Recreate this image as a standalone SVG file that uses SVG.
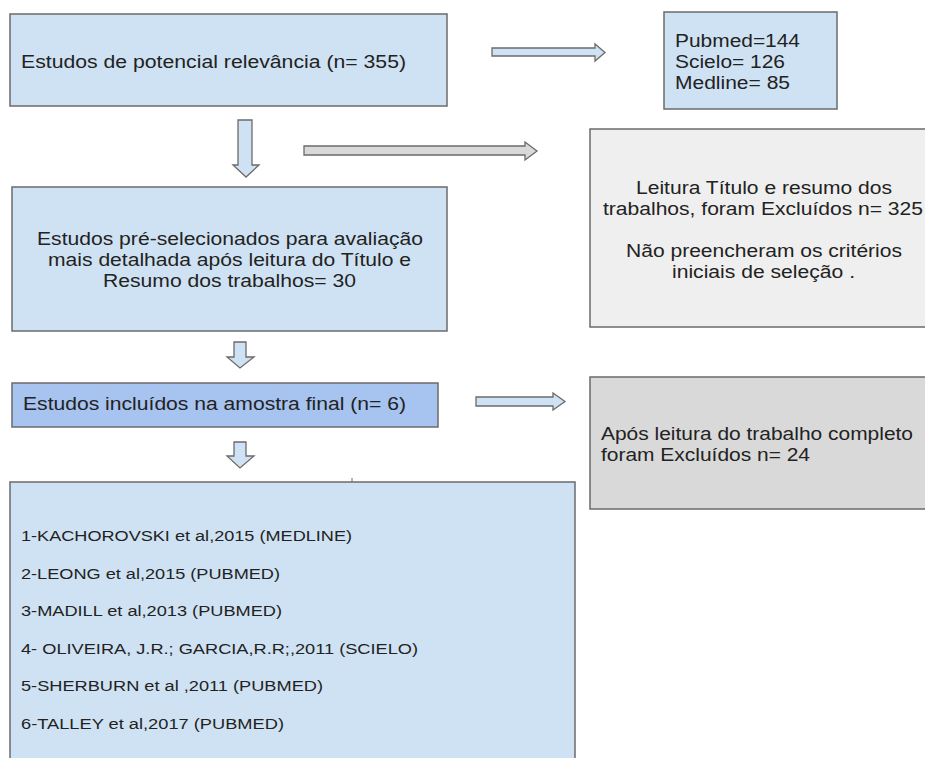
<svg xmlns="http://www.w3.org/2000/svg" width="925" height="758" viewBox="0 0 925 758">
<defs>
<style>
.bx{stroke:#6b6b6b;stroke-width:1.5}
.blue{fill:#cfe2f3}
.blue2{fill:#a7c3ef}
.g1{fill:#efefef}
.g2{fill:#d9d9d9}
.arr{stroke:#6b6b6b;stroke-width:1.3;stroke-linejoin:miter}
.t{font-family:"Liberation Sans",Arial,sans-serif;font-size:17.5px;fill:#222222}
.s{font-family:"Liberation Sans",Arial,sans-serif;font-size:15.5px;fill:#222222}
</style>
</defs>
<rect width="925" height="758" fill="#ffffff"/>

<g id="connectors">
<polygon class="arr blue" points="238,120 252,120 252,165 259,165 246,177 233,165 238,165"/>
<polygon class="arr g2" points="304,146 525,146 525,142 537,151 525,160 525,155 304,155"/>
<polygon class="arr blue" points="492,48 595,48 595,44 605,52.5 595,61 595,56 492,56"/>
<polygon class="arr blue" points="234,342 246,342 246,357 254,357 240,368 227,357 234,357"/>
<polygon class="arr blue" points="476,397 553,397 553,393 565,401.5 553,410 553,406 476,406"/>
<polygon class="arr blue" points="234,442 246,442 246,456 254,456 240,468 227,456 234,456"/>
<line x1="352" y1="478" x2="352" y2="482" stroke="#6b6b6b" stroke-width="1"/>
</g>

<g id="n1">
<rect class="bx blue" x="10" y="14" width="437" height="92"/>
<text class="t" x="21" y="68" textLength="385" lengthAdjust="spacingAndGlyphs">Estudos de potencial relevância (n= 355)</text>
</g>

<g id="n2">
<rect class="bx blue" x="664" y="12" width="173" height="97"/>
<text class="t" x="675" y="46.5" textLength="125" lengthAdjust="spacingAndGlyphs">Pubmed=144</text>
<text class="t" x="675" y="67.5" textLength="110" lengthAdjust="spacingAndGlyphs">Scielo= 126</text>
<text class="t" x="675" y="88.5" textLength="115" lengthAdjust="spacingAndGlyphs">Medline= 85</text>
</g>

<g id="n3">
<rect class="bx blue" x="12" y="187" width="435" height="144"/>
<text class="t" x="37" y="245" textLength="386" lengthAdjust="spacingAndGlyphs">Estudos pré-selecionados para avaliação</text>
<text class="t" x="48" y="266" textLength="363" lengthAdjust="spacingAndGlyphs">mais detalhada após leitura do Título e</text>
<text class="t" x="103" y="286.5" textLength="253" lengthAdjust="spacingAndGlyphs">Resumo dos trabalhos= 30</text>
</g>

<g id="n4">
<rect class="bx g1" x="590" y="129" width="345" height="198"/>
<text class="t" x="636" y="194" textLength="256" lengthAdjust="spacingAndGlyphs">Leitura Título e resumo dos</text>
<text class="t" x="603" y="215" textLength="320" lengthAdjust="spacingAndGlyphs">trabalhos, foram Excluídos n= 325</text>
<text class="t" x="626" y="257" textLength="276" lengthAdjust="spacingAndGlyphs">Não preencheram os critérios</text>
<text class="t" x="672" y="277.5" textLength="183" lengthAdjust="spacingAndGlyphs">iniciais de seleção .</text>
</g>

<g id="n5">
<rect class="bx blue2" x="12" y="383" width="426" height="44"/>
<text class="t" x="23" y="410" textLength="383" lengthAdjust="spacingAndGlyphs">Estudos incluídos na amostra final (n= 6)</text>
</g>

<g id="n6">
<rect class="bx g2" x="590" y="377" width="345" height="132"/>
<text class="t" x="601" y="440" textLength="312" lengthAdjust="spacingAndGlyphs">Após leitura do trabalho completo</text>
<text class="t" x="601" y="461" textLength="209" lengthAdjust="spacingAndGlyphs">foram Excluídos n= 24</text>
</g>

<g id="n7">
<rect class="bx blue" x="10" y="482" width="565" height="290"/>
<text class="s" x="21" y="541" textLength="331" lengthAdjust="spacingAndGlyphs">1-KACHOROVSKI et al,2015 (MEDLINE)</text>
<text class="s" x="21" y="578.5" textLength="259" lengthAdjust="spacingAndGlyphs">2-LEONG et al,2015 (PUBMED)</text>
<text class="s" x="21" y="616" textLength="261" lengthAdjust="spacingAndGlyphs">3-MADILL et al,2013 (PUBMED)</text>
<text class="s" x="21" y="653.5" textLength="397" lengthAdjust="spacingAndGlyphs">4- OLIVEIRA, J.R.; GARCIA,R.R;,2011 (SCIELO)</text>
<text class="s" x="21" y="691" textLength="302" lengthAdjust="spacingAndGlyphs">5-SHERBURN et al ,2011 (PUBMED)</text>
<text class="s" x="21" y="728.5" textLength="263" lengthAdjust="spacingAndGlyphs">6-TALLEY et al,2017 (PUBMED)</text>
</g>
</svg>
